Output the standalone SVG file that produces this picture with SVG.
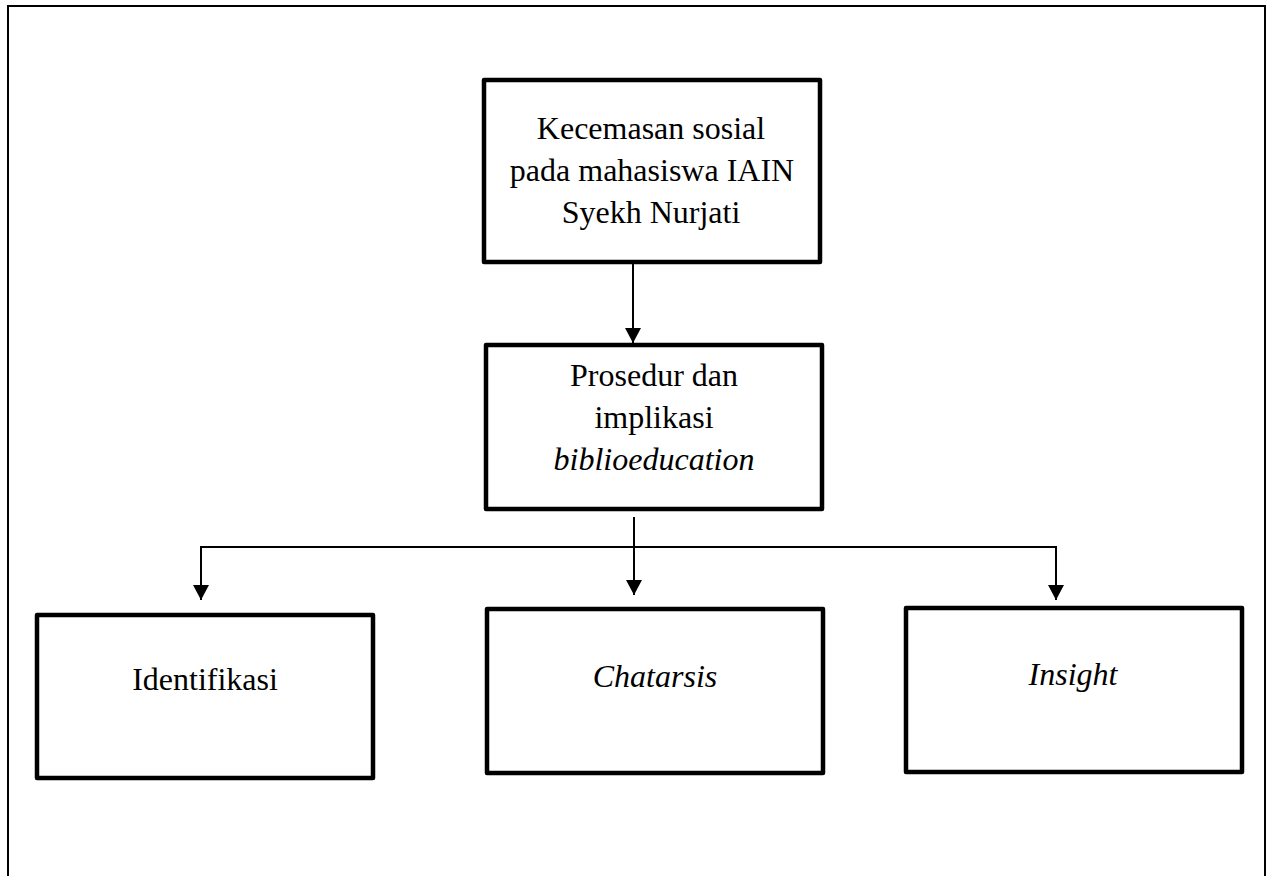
<svg xmlns="http://www.w3.org/2000/svg" width="1268" height="876" viewBox="0 0 1268 876">
  <style>
    .box { fill: #ffffff; stroke: #000000; stroke-width: 4.5; stroke-linejoin: round; }
    .conn { stroke: #000000; stroke-width: 2; fill: none; }
    .t { font-family: "Liberation Serif", "Times New Roman", serif; font-size: 32px; fill: #000000; text-anchor: middle; }
    .i { font-style: italic; }
  </style>
  <defs>
    <marker id="arrow" markerUnits="userSpaceOnUse" markerWidth="16" markerHeight="16" refX="15" refY="8" orient="auto">
      <path d="M0,0 L15,8 L0,16 Z" fill="#000000"/>
    </marker>
  </defs>
  <rect x="0" y="0" width="1268" height="876" fill="#ffffff"/>
  <path d="M8,876 V6 H1265 V876" fill="none" stroke="#000000" stroke-width="2"/>

  <g id="connectors">
    <line class="conn" x1="633" y1="264" x2="633" y2="343" marker-end="url(#arrow)"/>
    <line class="conn" x1="634" y1="517" x2="634" y2="595" marker-end="url(#arrow)"/>
    <line class="conn" x1="200" y1="547" x2="1057" y2="547"/>
    <line class="conn" x1="201" y1="546" x2="201" y2="600" marker-end="url(#arrow)"/>
    <line class="conn" x1="1056" y1="546" x2="1056" y2="600" marker-end="url(#arrow)"/>
  </g>

  <g id="node-kecemasan">
    <rect class="box" x="484" y="80" width="336" height="182"/>
    <text class="t" x="651" y="139">Kecemasan sosial</text>
    <text class="t" x="652" y="181">pada mahasiswa IAIN</text>
    <text class="t" x="651" y="223">Syekh Nurjati</text>
  </g>

  <g id="node-prosedur">
    <rect class="box" x="486" y="345" width="336" height="164"/>
    <text class="t" x="654" y="386">Prosedur dan</text>
    <text class="t" x="654" y="428">implikasi</text>
    <text class="t i" x="654" y="470">biblioeducation</text>
  </g>

  <g id="node-identifikasi">
    <rect class="box" x="37" y="615" width="336" height="163"/>
    <text class="t" x="205" y="690">Identifikasi</text>
  </g>

  <g id="node-chatarsis">
    <rect class="box" x="487" y="609" width="336" height="164"/>
    <text class="t i" x="655" y="687">Chatarsis</text>
  </g>

  <g id="node-insight">
    <rect class="box" x="906" y="608" width="336" height="164"/>
    <text class="t i" x="1073" y="685">Insight</text>
  </g>
</svg>
